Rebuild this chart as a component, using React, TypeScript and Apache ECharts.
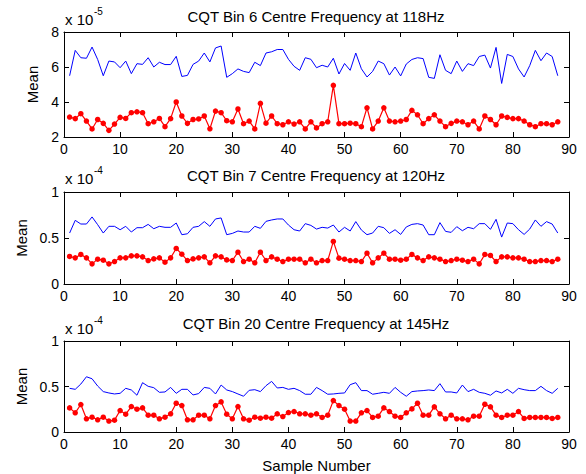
import React, { useEffect, useRef } from "react";
import * as echarts from "echarts";

// Sample numbers 1..88
const sampleNumbers: number[] = Array.from({ length: 88 }, (_, i) => i + 1);

const panelTitles = [
  "CQT Bin 6 Centre Frequency at 118Hz",
  "CQT Bin 7 Centre Frequency at 120Hz",
  "CQT Bin 20 Centre Frequency at 145Hz",
];
const panelExponents = ["-5", "-4", "-4"];

// Panel 1 (x 10^-5)
const bin6Upper = [
  5.5, 6.95, 6.53, 6.5, 7.14, 6.43, 5.5, 6.34, 6.29, 5.96, 6.34, 5.62, 6.19, 6.15, 6.53, 6.0, 6.27, 6.14, 6.14, 6.61,
  5.46, 5.52, 6.15, 6.34, 6.8, 6.29, 7.09, 7.2, 5.41, 5.62, 5.89, 5.75, 5.68, 6.27, 6.08, 6.8, 6.87, 7.0, 7.0, 6.44,
  6.04, 5.81, 6.53, 6.44, 5.96, 6.1, 6.0, 6.5, 5.6, 6.2, 5.81, 6.8, 5.9, 5.43, 5.75, 6.34, 6.19, 5.54, 6.0, 5.49,
  6.17, 6.43, 6.53, 6.48, 5.41, 5.35, 6.7, 5.81, 5.62, 6.34, 5.75, 6.19, 6.08, 6.6, 6.68, 5.94, 7.12, 5.06, 6.72, 6.6,
  5.89, 5.43, 6.08, 6.95, 6.36, 6.8, 6.6, 5.5,
];
const bin6Lower = [
  3.14, 3.05, 3.33, 2.91, 2.46, 3.0, 2.78, 2.38, 2.74, 3.12, 3.06, 3.39, 3.44, 3.39, 2.76, 2.87, 3.06, 2.59, 3.05, 4.0,
  3.2, 2.78, 3.0, 3.03, 3.2, 2.47, 3.48, 3.39, 2.93, 2.87, 3.6, 2.76, 2.91, 2.46, 3.92, 2.79, 3.2, 2.76, 2.7, 2.87,
  2.74, 2.87, 2.46, 2.87, 2.52, 2.76, 2.87, 4.95, 2.76, 2.76, 2.79, 2.76, 2.59, 3.67, 2.46, 2.91, 3.67, 2.91, 2.87, 2.91,
  3.0, 3.52, 3.27, 2.76, 3.05, 3.27, 2.91, 2.59, 2.78, 2.91, 2.87, 2.7, 2.91, 2.46, 3.2, 3.0, 2.7, 3.2, 3.12, 3.05,
  3.05, 2.91, 2.7, 2.59, 2.76, 2.76, 2.7, 2.87,
];

// Panel 2 (x 10^-4)
const bin7Upper = [
  0.554, 0.692, 0.652, 0.652, 0.729, 0.645, 0.554, 0.627, 0.627, 0.59, 0.627, 0.565, 0.612, 0.612, 0.648, 0.601, 0.627, 0.616, 0.616, 0.663,
  0.536, 0.546, 0.616, 0.627, 0.678, 0.627, 0.707, 0.718, 0.536, 0.55, 0.576, 0.565, 0.565, 0.627, 0.605, 0.681, 0.696, 0.707, 0.707, 0.641,
  0.59, 0.576, 0.656, 0.637, 0.597, 0.616, 0.608, 0.641, 0.565, 0.616, 0.576, 0.678, 0.587, 0.536, 0.554, 0.627, 0.612, 0.55, 0.59, 0.539,
  0.62, 0.648, 0.656, 0.641, 0.536, 0.536, 0.667, 0.572, 0.561, 0.623, 0.579, 0.616, 0.601, 0.656, 0.656, 0.594, 0.703, 0.51, 0.663, 0.656,
  0.59, 0.539, 0.597, 0.696, 0.627, 0.678, 0.652, 0.554,
];
const bin7Lower = [
  0.299, 0.284, 0.321, 0.284, 0.219, 0.27, 0.259, 0.219, 0.244, 0.284, 0.284, 0.306, 0.306, 0.295, 0.255, 0.273, 0.284, 0.237, 0.284, 0.386,
  0.324, 0.255, 0.273, 0.284, 0.295, 0.23, 0.306, 0.295, 0.262, 0.255, 0.346, 0.244, 0.27, 0.23, 0.346, 0.255, 0.295, 0.27, 0.244, 0.27,
  0.27, 0.27, 0.23, 0.27, 0.23, 0.255, 0.255, 0.463, 0.281, 0.27, 0.255, 0.255, 0.244, 0.335, 0.23, 0.284, 0.335, 0.27, 0.27, 0.259,
  0.27, 0.321, 0.284, 0.255, 0.295, 0.284, 0.27, 0.244, 0.255, 0.27, 0.259, 0.244, 0.27, 0.219, 0.321, 0.31, 0.244, 0.295, 0.295, 0.284,
  0.284, 0.27, 0.244, 0.244, 0.255, 0.255, 0.244, 0.27,
];

// Panel 3 (x 10^-4)
const bin20Upper = [
  0.48, 0.469, 0.527, 0.607, 0.585, 0.505, 0.444, 0.429, 0.418, 0.425, 0.48, 0.462, 0.404, 0.542, 0.502, 0.487, 0.436, 0.44, 0.49, 0.425,
  0.469, 0.469, 0.407, 0.422, 0.49, 0.48, 0.418, 0.516, 0.462, 0.444, 0.418, 0.393, 0.458, 0.465, 0.444, 0.509, 0.556, 0.484, 0.49, 0.469,
  0.48, 0.455, 0.415, 0.415, 0.49, 0.455, 0.415, 0.418, 0.425, 0.429, 0.52, 0.542, 0.455, 0.455, 0.415, 0.425, 0.436, 0.425, 0.49, 0.436,
  0.393, 0.444, 0.451, 0.455, 0.462, 0.455, 0.531, 0.44, 0.44, 0.429, 0.516, 0.444, 0.469, 0.436, 0.425, 0.404, 0.451, 0.429, 0.469, 0.425,
  0.48, 0.465, 0.455, 0.455, 0.502, 0.455, 0.425, 0.48,
];
const bin20Lower = [
  0.265, 0.211, 0.302, 0.145, 0.163, 0.134, 0.163, 0.12, 0.13, 0.236, 0.196, 0.28, 0.251, 0.265, 0.185, 0.185, 0.145, 0.163, 0.2, 0.316,
  0.291, 0.134, 0.134, 0.185, 0.185, 0.145, 0.291, 0.331, 0.196, 0.145, 0.28, 0.145, 0.13, 0.163, 0.152, 0.163, 0.152, 0.2, 0.17, 0.214,
  0.225, 0.2, 0.2, 0.185, 0.2, 0.16, 0.185, 0.345, 0.291, 0.251, 0.12, 0.12, 0.211, 0.236, 0.16, 0.174, 0.265, 0.225, 0.174, 0.16,
  0.211, 0.254, 0.316, 0.185, 0.185, 0.276, 0.2, 0.145, 0.185, 0.145, 0.145, 0.134, 0.174, 0.174, 0.305, 0.276, 0.185, 0.16, 0.185, 0.185,
  0.225, 0.149, 0.16, 0.16, 0.16, 0.16, 0.149, 0.16,
];

const upperSeries = [bin6Upper, bin7Upper, bin20Upper];
const lowerSeries = [bin6Lower, bin7Lower, bin20Lower];
const yRanges = [
  { min: 2, max: 8, interval: 2 },
  { min: 0, max: 1, interval: 0.5 },
  { min: 0, max: 1, interval: 0.5 },
];

const FONT = "'Liberation Sans', Arial, Helvetica, sans-serif";

export default function App() {
  const ref = useRef<HTMLDivElement>(null);

  useEffect(() => {
    if (!ref.current) return;
    const chart = echarts.init(ref.current, undefined, { renderer: "svg" });

    const grids = [
      { left: 64, width: 505, top: 32, height: 105 },
      { left: 64, width: 505, top: 192, height: 92 },
      { left: 64, width: 505, top: 341, height: 91 },
    ];
    const meanGaps = [22, 34, 34];
    const titleY = [16, 175, 323];
    const expY = [19.5, 178.5, 328];

    const xAxes: any[] = [];
    const yAxes: any[] = [];
    const series: any[] = [];
    const graphics: any[] = [];

    grids.forEach((g, k) => {
      const tickStyle = { show: true, inside: true, length: 5, lineStyle: { color: "#000", width: 1 } };
      xAxes.push({
        type: "value",
        gridIndex: k,
        min: 0,
        max: 90,
        interval: 10,
        position: "bottom",
        axisLine: { show: true, onZero: false, lineStyle: { color: "#000", width: 1 } },
        axisTick: tickStyle,
        axisLabel: { color: "#000", fontSize: 14, fontFamily: FONT, margin: 5 },
        splitLine: { show: false },
        name: k === 2 ? "Sample Number" : "",
        nameLocation: "middle",
        nameGap: 26,
        nameTextStyle: { color: "#000", fontSize: 15, fontFamily: FONT },
      });
      xAxes.push({
        type: "value",
        gridIndex: k,
        min: 0,
        max: 90,
        interval: 10,
        position: "top",
        axisLine: { show: true, onZero: false, lineStyle: { color: "#000", width: 1 } },
        axisTick: tickStyle,
        axisLabel: { show: false },
        splitLine: { show: false },
      });
      const yr = yRanges[k];
      yAxes.push({
        type: "value",
        gridIndex: k,
        min: yr.min,
        max: yr.max,
        interval: yr.interval,
        position: "left",
        axisLine: { show: true, onZero: false, lineStyle: { color: "#000", width: 1 } },
        axisTick: tickStyle,
        axisLabel: { color: "#000", fontSize: 14, fontFamily: FONT, margin: 5 },
        splitLine: { show: false },
        name: "Mean",
        nameLocation: "middle",
        nameGap: meanGaps[k],
        nameTextStyle: { color: "#000", fontSize: 15, fontFamily: FONT },
      });
      yAxes.push({
        type: "value",
        gridIndex: k,
        min: yr.min,
        max: yr.max,
        interval: yr.interval,
        position: "right",
        axisLine: { show: true, onZero: false, lineStyle: { color: "#000", width: 1 } },
        axisTick: tickStyle,
        axisLabel: { show: false },
        splitLine: { show: false },
      });

      series.push({
        type: "line",
        xAxisIndex: 2 * k,
        yAxisIndex: 2 * k,
        data: sampleNumbers.map((s, i) => [s, upperSeries[k][i]]),
        showSymbol: false,
        symbol: "none",
        lineStyle: { color: "#0000ff", width: 1 },
        itemStyle: { color: "#0000ff" },
        silent: true,
      });
      series.push({
        type: "line",
        xAxisIndex: 2 * k,
        yAxisIndex: 2 * k,
        data: sampleNumbers.map((s, i) => [s, lowerSeries[k][i]]),
        symbol: "circle",
        symbolSize: 5.5,
        showSymbol: true,
        lineStyle: { color: "#ff0000", width: 1.2 },
        itemStyle: { color: "#ff0000", borderWidth: 0 },
        silent: true,
      });

      graphics.push({
        type: "text",
        x: 316,
        y: titleY[k],
        style: {
          text: panelTitles[k],
          fill: "#000",
          font: `15px ${FONT}`,
          align: "center",
          verticalAlign: "middle",
        },
      });
      graphics.push({
        type: "text",
        x: 65,
        y: expY[k],
        style: {
          text: "x 10",
          fill: "#000",
          font: `15px ${FONT}`,
          align: "left",
          verticalAlign: "middle",
        },
      });
      graphics.push({
        type: "text",
        x: 94,
        y: expY[k] - 8,
        style: {
          text: panelExponents[k],
          fill: "#000",
          font: `10px ${FONT}`,
          align: "left",
          verticalAlign: "middle",
        },
      });
    });

    chart.setOption({
      animation: false,
      backgroundColor: "#fff",
      grid: grids.map((g) => ({ ...g, show: false, containLabel: false })),
      xAxis: xAxes,
      yAxis: yAxes,
      series,
      graphic: graphics,
    });

    return () => {
      chart.dispose();
    };
  }, []);

  return (
    <div
      ref={ref}
      style={{ position: "fixed", left: 0, top: 0, width: 586, height: 474, background: "#fff" }}
    />
  );
}
